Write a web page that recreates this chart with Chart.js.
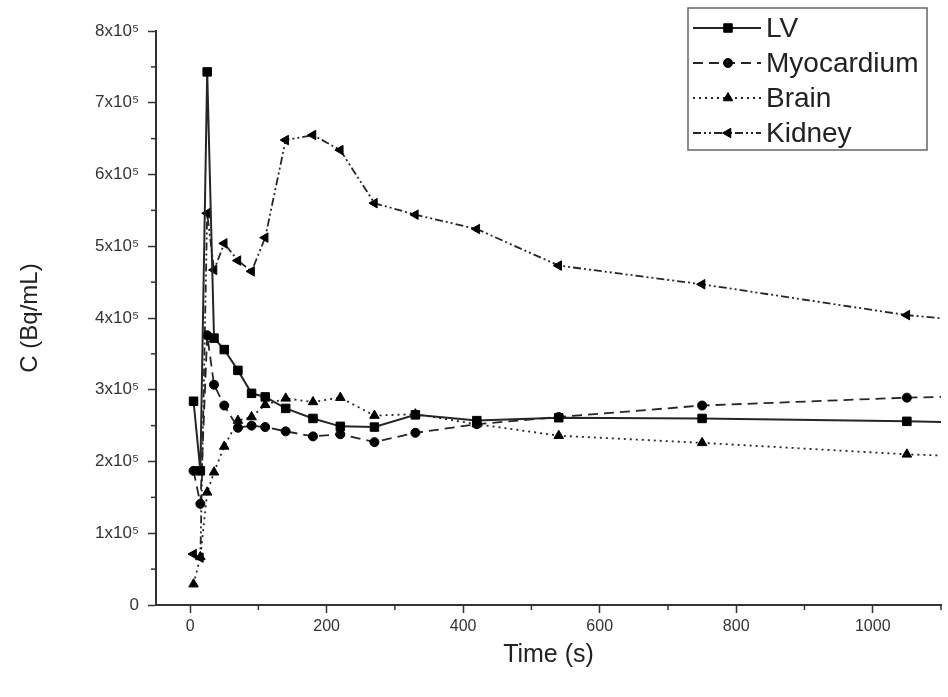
<!DOCTYPE html>
<html><head><meta charset="utf-8">
<script src="https://cdn.jsdelivr.net/npm/chart.js@4.4.1/dist/chart.umd.min.js"></script>
<style>html,body{margin:0;padding:0;background:#fff;}#wrap{width:948px;height:697px;}</style>
</head><body><div id="wrap"><canvas id="c" width="948" height="697"></canvas></div>
<script>
// Time points (s)
const times = [5, 15, 25, 35, 50, 70, 90, 110, 140, 180, 220, 270, 330, 420, 540, 750, 1050, 1350];
// Concentrations (Bq/mL)
const lvValues     = [284000, 187000, 743000, 372000, 356000, 327000, 295000, 290000, 274000, 260000, 249000, 248000, 265000, 257000, 261000, 260000, 256000, 250000];
const myoValues    = [187000, 141000, 376000, 307000, 278000, 247000, 250000, 248000, 242000, 235000, 238000, 227000, 240000, 252000, 262000, 278000, 289000, 295000];
const brainValues  = [29000, 67000, 157000, 185000, 221000, 257000, 262000, 279000, 288000, 283000, 289000, 264000, 266000, 252000, 236000, 226000, 210000, 200000];
const kidneyValues = [71000, 66000, 546000, 467000, 504000, 480000, 465000, 512000, 648000, 655000, 634000, 560000, 544000, 524000, 473000, 447000, 404000, 378000];
const seriesNames = ['LV', 'Myocardium', 'Brain', 'Kidney'];
const xTickValues = [0, 200, 400, 600, 800, 1000];

const FONT = '"Liberation Sans", Arial, Helvetica, sans-serif';
const INK = '#222';

function pts(vals){ return times.map((t,i)=>({x:t, y:vals[i]})); }

const minorTicks = {
  id:'minorTicks',
  afterDraw(chart){
    const ctx = chart.ctx;
    ctx.save();
    ctx.strokeStyle = '#333'; ctx.lineWidth = 1.5;
    const xs = chart.scales.x, ys = chart.scales.y;
    const xt = xs.ticks.map(t=>t.value);
    const xstep = xt[1]-xt[0];
    const xm = [];
    for (let v = xt[0]-xstep/2; v <= xs.max; v += xstep) if (v >= xs.min) xm.push(v);
    xm.forEach(v=>{
      const p = Math.min(xs.getPixelForValue(v), chart.width-1);
      ctx.beginPath(); ctx.moveTo(p, xs.top); ctx.lineTo(p, xs.top+5); ctx.stroke();
    });
    const yt = ys.ticks.map(t=>t.value);
    const ystep = yt[1]-yt[0];
    for (let v = yt[0]+ystep/2; v < ys.max; v += ystep){
      const p = ys.getPixelForValue(v);
      ctx.beginPath(); ctx.moveTo(ys.right, p); ctx.lineTo(ys.right-5, p); ctx.stroke();
    }
    ctx.restore();
  }
};

function marker(ctx, style, rot, r, x, y){
  ctx.save();
  ctx.fillStyle = '#000'; ctx.strokeStyle = '#000'; ctx.lineWidth = 1;
  ctx.setLineDash([]);
  if (Chart.helpers && Chart.helpers.drawPoint){
    Chart.helpers.drawPoint(ctx, {pointStyle:style, rotation:rot, radius:r, borderWidth:1}, x, y);
  } else {
    ctx.beginPath(); ctx.arc(x,y,r,0,Math.PI*2); ctx.fill();
  }
  ctx.restore();
}

const legendBox = {
  id:'legendBox',
  afterDraw(chart){
    const ctx = chart.ctx;
    ctx.save();
    const x0 = 688, y0 = 8, w = 239, h = 142;
    ctx.fillStyle = '#fff'; ctx.fillRect(x0, y0, w, h);
    ctx.strokeStyle = '#666'; ctx.lineWidth = 1.5; ctx.strokeRect(x0, y0, w, h);
    chart.data.datasets.forEach((ds, i)=>{
      const y = 28 + i*35;
      ctx.strokeStyle = ds.borderColor; ctx.lineWidth = ds.borderWidth;
      ctx.setLineDash(ds.borderDash || []);
      ctx.beginPath(); ctx.moveTo(693, y); ctx.lineTo(761, y); ctx.stroke();
      ctx.setLineDash([]);
      marker(ctx, ds.pointStyle, ds.pointRotation || 0, ds.pointRadius, 728, y);
      ctx.fillStyle = INK;
      ctx.font = '28px ' + FONT;
      ctx.textBaseline = 'middle';
      ctx.textAlign = 'left';
      ctx.fillText(ds.label, 766, y + 1);
    });
    ctx.restore();
  }
};

const common = {borderColor:'#262626', pointBackgroundColor:'#000', pointBorderColor:'#000', pointBorderWidth:1, fill:false, tension:0, pointHoverRadius:5};

new Chart(document.getElementById('c'), {
  type:'line',
  data:{
    datasets:[
      Object.assign({label:seriesNames[0], data:pts(lvValues), borderWidth:2, borderDash:[], pointStyle:'rect', pointRadius:6}, common),
      Object.assign({label:seriesNames[1], data:pts(myoValues), borderWidth:1.8, borderDash:[10,6], pointStyle:'circle', pointRadius:4.5}, common),
      Object.assign({label:seriesNames[2], data:pts(brainValues), borderWidth:1.8, borderDash:[2,4], pointStyle:'triangle', pointRadius:5.5}, common),
      Object.assign({label:seriesNames[3], data:pts(kidneyValues), borderWidth:1.8, borderDash:[8,3,2,3,2,3], pointStyle:'triangle', pointRotation:-90, pointRadius:5.5}, common)
    ]
  },
  options:{
    responsive:false,
    animation:false,
    devicePixelRatio:1,
    layout:{padding:{top:31, right:0, left:0, bottom:0}},
    plugins:{legend:{display:false}, tooltip:{enabled:false}},
    scales:{
      x:{
        type:'linear', min:-50, max:1100,
        afterFit(s){ s.height = 92; },
        afterBuildTicks(s){ s.ticks = xTickValues.map(v=>({value:v})); },
        ticks:{includeBounds:false, color:'#333', font:{family:FONT, size:16}, padding:4, maxRotation:0,
          callback:(v)=> String(v)},
        grid:{drawOnChartArea:false, drawTicks:true, tickLength:8, tickColor:'#333', tickWidth:1.5},
        border:{display:true, color:'#333', width:2},
        title:{display:true, text:'Time (s)', color:INK, font:{family:FONT, size:25}, padding:{top:0, bottom:27}}
      },
      y:{
        type:'linear', min:0, max:800000,
        afterFit(s){ s.width = 156; },
        ticks:{stepSize:100000, includeBounds:false, color:'#333', font:{family:FONT, size:17}, padding:9,
          callback:(v)=> v === 0 ? '0' : (v/100000) + 'x10\u2075'},
        grid:{drawOnChartArea:false, drawTicks:true, tickLength:8, tickColor:'#333', tickWidth:1.5},
        border:{display:true, color:'#333', width:2},
        title:{display:true, text:'C (Bq/mL)', color:INK, font:{family:FONT, size:24}, padding:{top:16, bottom:0}}
      }
    }
  },
  plugins:[minorTicks, legendBox]
});
</script></body></html>
